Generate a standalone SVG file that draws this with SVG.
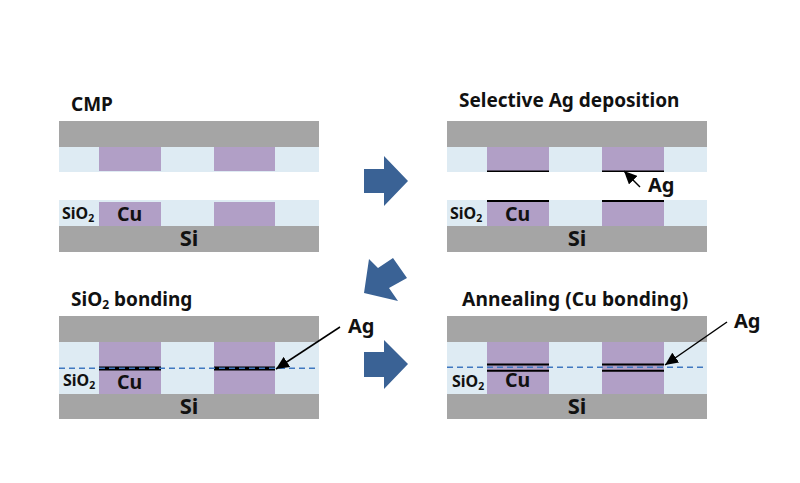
<svg xmlns="http://www.w3.org/2000/svg" width="800" height="483" viewBox="0 0 800 483">
<style>
.si{fill:#a5a5a5}.ox{fill:#deebf3}.cu{fill:#b19fc6}
.ag{stroke:#000;fill:none}
.dash{stroke:#3f78c0;stroke-width:1.5;stroke-dasharray:6 4;fill:none}
.big{fill:#3a6295}
text{font-family:"Noto Sans","Liberation Sans",sans-serif;font-weight:700;fill:#111}
.t{font-size:19px}.wide{font-size:19.200px}.l{font-size:19.500px}.m{font-size:20px}.x{font-size:22px}.s{font-size:16px}.sub{font-size:10.500px}
.lead{stroke:#000;stroke-width:1.5;fill:none}
</style>
<defs>
<marker id="ah" markerUnits="userSpaceOnUse" markerWidth="14" markerHeight="12" refX="13" refY="6" orient="auto"><path d="M0 0L13 6L0 12Z" fill="#000"/></marker>
</defs>
<rect width="800" height="483" fill="#fff"/>
<g id="panel-cmp">
<text class="t" x="71" y="111">CMP</text>
<rect class="si" x="59" y="121" width="260" height="26"/>
<rect class="ox" x="59" y="147" width="260" height="25"/>
<rect class="cu" x="99" y="147" width="62" height="24"/>
<rect class="cu" x="214" y="147" width="61" height="24"/>
<rect class="ox" x="59" y="200" width="260" height="26"/>
<rect class="cu" x="99" y="202" width="62" height="24"/>
<rect class="cu" x="214" y="202" width="61" height="24"/>
<rect class="si" x="59" y="226" width="260" height="26"/>
<text class="s" x="62" y="219">SiO<tspan class="sub" dy="3">2</tspan></text>
<text class="l" x="129.500" y="221" text-anchor="middle">Cu</text>
<text class="x" x="189" y="246" text-anchor="middle">Si</text>
</g>
<g id="panel-ag">
<text class="t" x="459" y="107">Selective Ag deposition</text>
<rect class="si" x="447" y="121" width="260" height="26"/>
<rect class="ox" x="447" y="147" width="260" height="25"/>
<rect class="cu" x="487" y="147" width="62" height="25"/>
<rect class="cu" x="602" y="147" width="62" height="25"/>
<rect class="ox" x="447" y="200" width="260" height="26"/>
<rect class="cu" x="487" y="200" width="62" height="26"/>
<rect class="cu" x="602" y="200" width="62" height="26"/>
<rect class="si" x="447" y="226" width="260" height="26"/>
<path class="ag" stroke-width="1.6" d="M487 171.200H549M602 171.200H664"/>
<path class="ag" stroke-width="2" d="M487 201H549M602 201H664"/>
<text class="s" x="450" y="219">SiO<tspan class="sub" dy="3">2</tspan></text>
<text class="l" x="517.500" y="221" text-anchor="middle">Cu</text>
<text class="x" x="577" y="246" text-anchor="middle">Si</text>
<text class="m" x="648" y="192">Ag</text>
</g>
<g id="panel-sio2">
<text class="t" x="71" y="306">SiO<tspan dy="3" style="font-size:12px">2</tspan><tspan dy="-3"> bonding</tspan></text>
<rect class="si" x="59" y="316" width="260" height="26"/>
<rect class="ox" x="59" y="342" width="260" height="52"/>
<rect class="cu" x="99" y="342" width="62" height="52"/>
<rect class="cu" x="214" y="342" width="61" height="52"/>
<rect class="si" x="59" y="394" width="260" height="25"/>
<path class="ag" stroke-width="4" d="M99 368.500H161M214 368.500H275"/>
<path class="dash" d="M59 368.300H319"/>
<text class="s" x="63" y="386">SiO<tspan class="sub" dy="3">2</tspan></text>
<text class="l" x="129.500" y="389" text-anchor="middle">Cu</text>
<text class="x" x="189" y="414" text-anchor="middle">Si</text>
<text class="m" x="348" y="333">Ag</text>
</g>
<g id="panel-anneal">
<text class="wide" x="462" y="306" letter-spacing="0.100">Annealing (Cu bonding)</text>
<rect class="si" x="447" y="316" width="260" height="26"/>
<rect class="ox" x="447" y="342" width="260" height="52"/>
<rect class="cu" x="487" y="342" width="62" height="52"/>
<rect class="cu" x="602" y="342" width="62" height="52"/>
<rect class="si" x="447" y="394" width="260" height="25"/>
<path class="ag" stroke-width="2" d="M487 364.500H549M602 364.500H664M487 370.800H549M602 370.800H664"/>
<path class="dash" d="M447 367.300H707"/>
<text class="s" x="452" y="387">SiO<tspan class="sub" dy="3">2</tspan></text>
<text class="l" x="517.500" y="387" text-anchor="middle">Cu</text>
<text class="x" x="577" y="414" text-anchor="middle">Si</text>
<text class="m" x="734" y="328">Ag</text>
</g>
<g id="connectors">
<path class="big" d="M364 169H384V156L408 181L384 206V193H364Z"/>
<path class="big" d="M364 293L369 259L378 268L393 258L407 278L389 288L398 301Z"/>
<path class="big" d="M364 352H384V340L408 364L384 389V377H364Z"/>
<path class="lead" marker-end="url(#ah)" d="M640 187L624 171"/>
<path class="lead" marker-end="url(#ah)" d="M340 327L276 369"/>
<path class="lead" marker-end="url(#ah)" d="M727 322L665 365"/>
</g>
</svg>
